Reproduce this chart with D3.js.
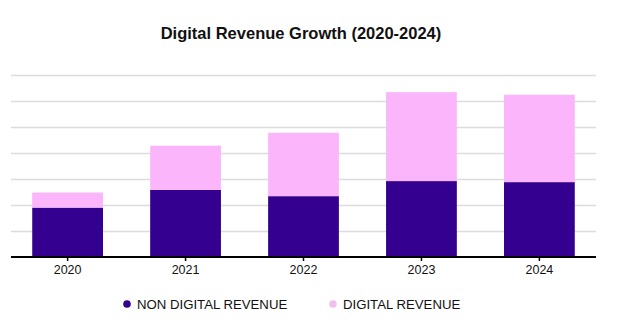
<!DOCTYPE html>
<html><head><meta charset="utf-8">
<script src="https://cdn.jsdelivr.net/npm/d3@7"></script>
<style>body{margin:0;background:#fff;}svg{display:block;font-family:"Liberation Sans",Arial,sans-serif;}</style>
</head><body><svg id="c" width="627" height="335"></svg>
<script>
const years = ["2020","2021","2022","2023","2024"];
const nonDigital = [9.5, 12.9, 11.7, 14.6, 14.4];
const digital = [2.9, 8.5, 12.2, 17.1, 16.8];
const seriesNames = ["NON DIGITAL REVENUE","DIGITAL REVENUE"];
const yTicks = [0,5,10,15,20,25,30,35];

const svg = d3.select("#c");
const W = 627, H = 335;
const x0 = 11, x1 = 596, yBase = 257, yTop = 75;
const x = d3.scaleBand().domain(years).range([x0,x1]).paddingInner(0.4).paddingOuter(0.18);
const y = d3.scaleLinear().domain([0,35]).range([yBase,yTop]);

svg.append("text").attr("x",301).attr("y",39).attr("text-anchor","middle")
  .attr("font-size",16.5).attr("font-weight","bold").attr("fill","#111").text("Digital Revenue Growth (2020-2024)");

const grid = svg.append("g").attr("transform",`translate(${x0},0)`)
  .call(d3.axisLeft(y).tickValues(yTicks.slice(1)).tickSize(-(x1-x0)).tickFormat(""));
grid.select(".domain").remove();
grid.selectAll("line").attr("stroke","#dcdcdc").attr("stroke-width",1.5);

const data = years.map((yr,i)=>({year:yr, nd:nonDigital[i], d:digital[i]}));
const stack = d3.stack().keys(["nd","d"])(data);
const colors = ["#33008f","#fbb6fb"];
stack.forEach((s,k)=>{
  svg.append("g").selectAll("rect").data(s).join("rect")
    .attr("x",d=>x(d.data.year)).attr("width",x.bandwidth())
    .attr("y",d=>y(d[1])).attr("height",d=>y(d[0])-y(d[1]))
    .attr("fill",colors[k]);
});

const ax = svg.append("g").attr("transform",`translate(0,${yBase})`)
  .call(d3.axisBottom(x).tickSize(4).tickPadding(4));
ax.select(".domain").attr("stroke","#000").attr("stroke-width",2).attr("d",`M${x0},0H${x1}`);
ax.selectAll(".tick line").attr("stroke","#000").attr("stroke-width",1.5);
ax.selectAll("text").attr("font-size",12.5).attr("fill","#111").attr("font-family","'Liberation Sans',Arial,sans-serif");

const legendX = [127, 333];
const legendColors = ["#33008f","#f0bff2"];
seriesNames.forEach((n,i)=>{
  svg.append("circle").attr("cx",legendX[i]).attr("cy",304).attr("r",3.8).attr("fill",legendColors[i]);
  svg.append("text").attr("x",legendX[i]+10).attr("y",309).attr("font-size",13.2).attr("fill","#111").text(n);
});
</script></body></html>
